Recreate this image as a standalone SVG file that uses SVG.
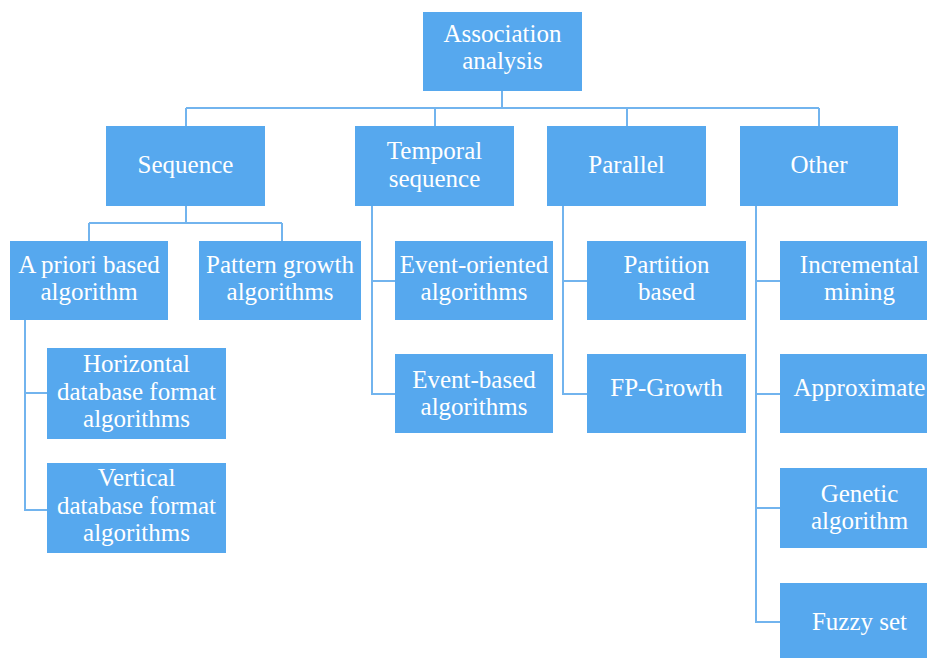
<svg xmlns="http://www.w3.org/2000/svg" width="927" height="658" viewBox="0 0 927 658">
<style>
.box{fill:#56a8ee;}
.t{font-family:"Liberation Serif","Times New Roman",serif;font-size:25px;fill:#ffffff;text-anchor:middle;}
.c{fill:none;stroke:#72b4ee;stroke-width:2;}
</style>
<rect width="927" height="658" fill="#ffffff"/>
<g id="connectors">
<path class="c" d="M502,91V108M186,108H819M186,108V126M435,108V126M627,108V126M819,108V126"/>
<path class="c" d="M186,206V223M89,223H282M89,223V241M282,223V241"/>
<path class="c" d="M25,320V510H47M25,393H47"/>
<path class="c" d="M372,206V394H395M372,281H395"/>
<path class="c" d="M563,206V394H587M563,281H587"/>
<path class="c" d="M756,206V622H780M756,281H780M756,394H780M756,508H780"/>
</g>
<g id="association">
<rect class="box" x="423" y="12" width="159" height="79"/>
<text class="t" x="502.5" y="42">Association</text>
<text class="t" x="502.5" y="69">analysis</text>
</g>
<g id="sequence">
<rect class="box" x="106" y="126" width="159" height="80"/>
<text class="t" x="185.5" y="173">Sequence</text>
</g>
<g id="temporal">
<rect class="box" x="355" y="126" width="159" height="80"/>
<text class="t" x="434.5" y="159">Temporal</text>
<text class="t" x="434.5" y="187">sequence</text>
</g>
<g id="parallel">
<rect class="box" x="547" y="126" width="159" height="80"/>
<text class="t" x="626.5" y="173">Parallel</text>
</g>
<g id="other">
<rect class="box" x="740" y="126" width="158" height="80"/>
<text class="t" x="819" y="173">Other</text>
</g>
<g id="apriori">
<rect class="box" x="10" y="241" width="158" height="79"/>
<text class="t" x="89" y="273">A priori based</text>
<text class="t" x="89" y="300">algorithm</text>
</g>
<g id="pattern">
<rect class="box" x="199" y="241" width="162" height="79"/>
<text class="t" x="280" y="273">Pattern growth</text>
<text class="t" x="280" y="300">algorithms</text>
</g>
<g id="horizontal">
<rect class="box" x="47" y="348" width="179" height="91"/>
<text class="t" x="136.5" y="372">Horizontal</text>
<text class="t" x="136.5" y="400">database format</text>
<text class="t" x="136.5" y="427">algorithms</text>
</g>
<g id="vertical">
<rect class="box" x="47" y="463" width="179" height="90"/>
<text class="t" x="136.5" y="486">Vertical</text>
<text class="t" x="136.5" y="514">database format</text>
<text class="t" x="136.5" y="541">algorithms</text>
</g>
<g id="eventoriented">
<rect class="box" x="395" y="241" width="158" height="79"/>
<text class="t" x="474" y="273">Event-oriented</text>
<text class="t" x="474" y="300">algorithms</text>
</g>
<g id="eventbased">
<rect class="box" x="395" y="354" width="158" height="79"/>
<text class="t" x="474" y="388">Event-based</text>
<text class="t" x="474" y="415">algorithms</text>
</g>
<g id="partition">
<rect class="box" x="587" y="241" width="159" height="79"/>
<text class="t" x="666.5" y="273">Partition</text>
<text class="t" x="666.5" y="300">based</text>
</g>
<g id="fpgrowth">
<rect class="box" x="587" y="354" width="159" height="79"/>
<text class="t" x="666.5" y="396">FP-Growth</text>
</g>
<g id="incremental">
<rect class="box" x="780" y="241" width="159" height="79"/>
<text class="t" x="859.5" y="273">Incremental</text>
<text class="t" x="859.5" y="300">mining</text>
</g>
<g id="approximate">
<rect class="box" x="780" y="354" width="159" height="79"/>
<text class="t" x="859.5" y="396">Approximate</text>
</g>
<g id="genetic">
<rect class="box" x="780" y="468" width="159" height="80"/>
<text class="t" x="859.5" y="502">Genetic</text>
<text class="t" x="859.5" y="529">algorithm</text>
</g>
<g id="fuzzy">
<rect class="box" x="780" y="583" width="159" height="80"/>
<text class="t" x="859.5" y="630">Fuzzy set</text>
</g>
</svg>
